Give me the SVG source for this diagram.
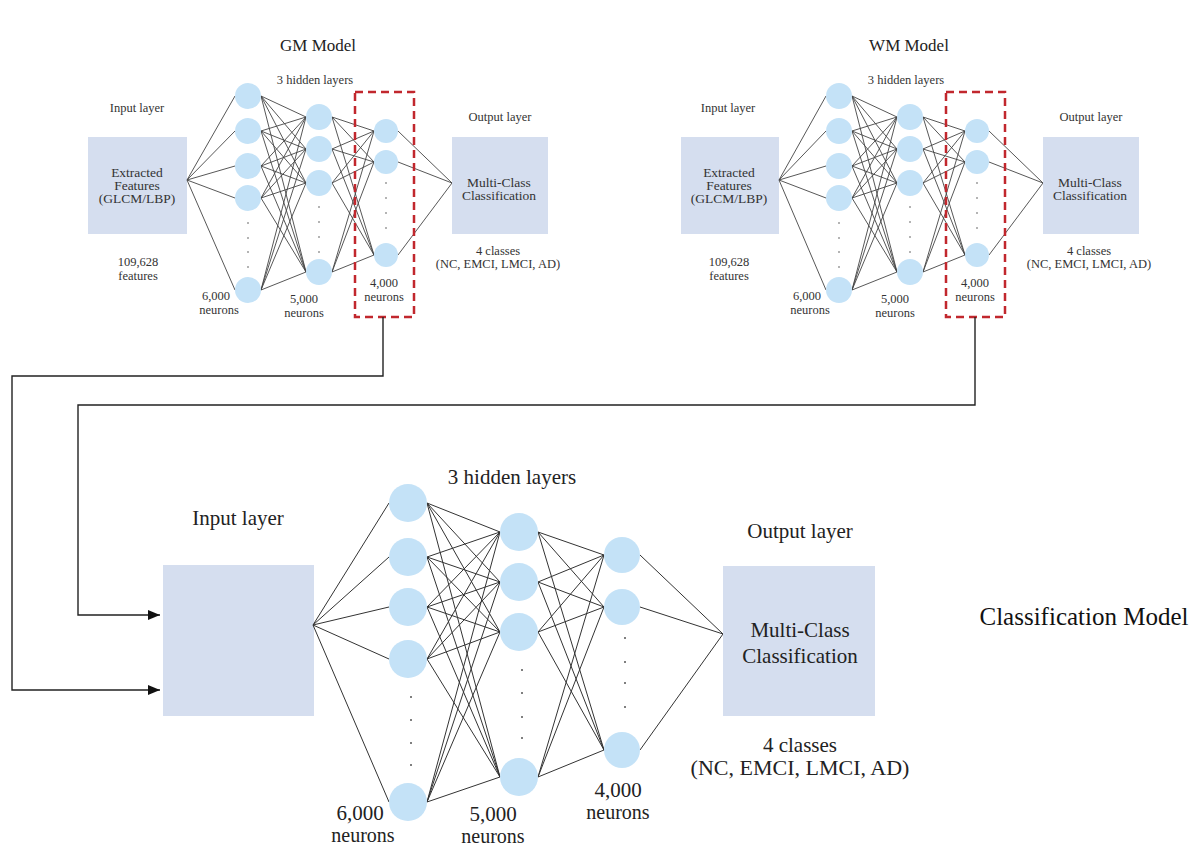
<svg xmlns="http://www.w3.org/2000/svg" width="1201" height="848" viewBox="0 0 1201 848">
<style>
text{font-family:"Liberation Serif","Times New Roman",serif;text-anchor:middle;fill:#333}
.s{font-size:12.5px}
.m{font-size:13.5px}
.t{font-size:17px;fill:#222}
.b{font-size:21px;fill:#222}
.bn{font-size:22px;fill:#222}
.nd{font-size:21px;fill:#222}
.nl{font-size:20px;fill:#222}
.box{fill:#d5deef}
.n{fill:#c4e2f7}
.e{fill:none;stroke:#444;stroke-width:0.9}
.eb{fill:none;stroke:#333;stroke-width:1}
.dot{fill:#555}
.red{fill:none;stroke:#c1272d;stroke-width:2.5;stroke-dasharray:8 5}
.conn{fill:none;stroke:#222;stroke-width:1.4}
</style>
<defs>
<marker id="arr" viewBox="0 0 12 10" refX="12" refY="5" markerWidth="12" markerHeight="10" markerUnits="userSpaceOnUse" orient="auto">
<path d="M0 0L12 5L0 10z" fill="#111"/>
</marker>
</defs>
<rect width="1201" height="848" fill="#fff"/>

<!-- GM model -->
<g id="gm-model">
<text class="t" x="318" y="51">GM Model</text>
<text class="s" x="315" y="84">3 hidden layers</text>
<g id="gm-input">
<text class="s" x="137" y="112">Input layer</text>
<rect class="box" x="88" y="137" width="99" height="97"/>
<text class="m" x="137" y="177">Extracted</text>
<text class="m" x="137" y="190">Features</text>
<text class="m" x="137" y="203">(GLCM/LBP)</text>
<text class="s" x="138" y="266">109,628</text>
<text class="s" x="138" y="280">features</text>
</g>
<g id="gm-edges">
<path class="e" d="M187 180L235 96M187 180L235 131M187 180L235 166M187 180L235 198M187 180L235 290"/>
<path class="e" d="M261 96L306 117M261 96L306 149M261 96L306 183M261 96L306 272M261 131L306 117M261 131L306 149M261 131L306 183M261 131L306 272M261 166L306 117M261 166L306 149M261 166L306 183M261 166L306 272M261 198L306 117M261 198L306 149M261 198L306 183M261 198L306 272M261 290L306 117M261 290L306 149M261 290L306 183M261 290L306 272"/>
<path class="e" d="M332 117L374 131M332 117L374 162M332 117L374 255M332 149L374 131M332 149L374 162M332 149L374 255M332 183L374 131M332 183L374 162M332 183L374 255M332 272L374 131M332 272L374 162M332 272L374 255"/>
<path class="e" d="M398 131L452 183M398 162L452 183M398 255L452 183"/>
</g>
<g id="gm-hidden1">
<circle class="n" cx="248" cy="96" r="13"/><circle class="n" cx="248" cy="131" r="13"/><circle class="n" cx="248" cy="166" r="13"/><circle class="n" cx="248" cy="198" r="13"/><circle class="n" cx="248" cy="290" r="13"/>
<circle class="dot" cx="248" cy="223" r="0.8"/><circle class="dot" cx="248" cy="238" r="0.8"/><circle class="dot" cx="248" cy="252" r="0.8"/><circle class="dot" cx="248" cy="267" r="0.8"/>
<text class="s" x="216" y="300">6,000</text><text class="s" x="219" y="314">neurons</text>
</g>
<g id="gm-hidden2">
<circle class="n" cx="319" cy="117" r="13"/><circle class="n" cx="319" cy="149" r="13"/><circle class="n" cx="319" cy="183" r="13"/><circle class="n" cx="319" cy="272" r="13"/>
<circle class="dot" cx="319" cy="207" r="0.8"/><circle class="dot" cx="319" cy="222" r="0.8"/><circle class="dot" cx="319" cy="237" r="0.8"/><circle class="dot" cx="319" cy="252" r="0.8"/>
<text class="s" x="304" y="303">5,000</text><text class="s" x="304" y="317">neurons</text>
</g>
<g id="gm-hidden3">
<circle class="n" cx="386" cy="131" r="12"/><circle class="n" cx="386" cy="162" r="12"/><circle class="n" cx="386" cy="255" r="12"/>
<circle class="dot" cx="386" cy="183" r="0.8"/><circle class="dot" cx="386" cy="198" r="0.8"/><circle class="dot" cx="386" cy="213" r="0.8"/><circle class="dot" cx="386" cy="228" r="0.8"/>
<text class="s" x="384" y="287">4,000</text><text class="s" x="384" y="301">neurons</text>
<rect class="red" x="355" y="92" width="59" height="225"/>
</g>
<g id="gm-output">
<text class="s" x="500" y="121">Output layer</text>
<rect class="box" x="452" y="137" width="96" height="97"/>
<text class="m" x="499" y="187">Multi-Class</text>
<text class="m" x="499" y="200">Classification</text>
<text class="s" x="498" y="255">4 classes</text>
<text class="s" x="498" y="268">(NC, EMCI, LMCI, AD)</text>
</g>
</g>

<!-- WM model -->
<g id="wm-model" transform="translate(591,0)">
<text class="t" x="318" y="51">WM Model</text>
<text class="s" x="315" y="84">3 hidden layers</text>
<g id="wm-input">
<text class="s" x="137" y="112">Input layer</text>
<rect class="box" x="90" y="137" width="98" height="97"/>
<text class="m" x="138" y="177">Extracted</text>
<text class="m" x="138" y="190">Features</text>
<text class="m" x="138" y="203">(GLCM/LBP)</text>
<text class="s" x="138" y="266">109,628</text>
<text class="s" x="138" y="280">features</text>
</g>
<g id="wm-edges">
<path class="e" d="M188 180L235 96M188 180L235 131M188 180L235 166M188 180L235 198M188 180L235 290"/>
<path class="e" d="M261 96L306 117M261 96L306 149M261 96L306 183M261 96L306 272M261 131L306 117M261 131L306 149M261 131L306 183M261 131L306 272M261 166L306 117M261 166L306 149M261 166L306 183M261 166L306 272M261 198L306 117M261 198L306 149M261 198L306 183M261 198L306 272M261 290L306 117M261 290L306 149M261 290L306 183M261 290L306 272"/>
<path class="e" d="M332 117L374 131M332 117L374 162M332 117L374 255M332 149L374 131M332 149L374 162M332 149L374 255M332 183L374 131M332 183L374 162M332 183L374 255M332 272L374 131M332 272L374 162M332 272L374 255"/>
<path class="e" d="M398 131L452 183M398 162L452 183M398 255L452 183"/>
</g>
<g id="wm-hidden1">
<circle class="n" cx="248" cy="96" r="13"/><circle class="n" cx="248" cy="131" r="13"/><circle class="n" cx="248" cy="166" r="13"/><circle class="n" cx="248" cy="198" r="13"/><circle class="n" cx="248" cy="290" r="13"/>
<circle class="dot" cx="248" cy="223" r="0.8"/><circle class="dot" cx="248" cy="238" r="0.8"/><circle class="dot" cx="248" cy="252" r="0.8"/><circle class="dot" cx="248" cy="267" r="0.8"/>
<text class="s" x="216" y="300">6,000</text><text class="s" x="219" y="314">neurons</text>
</g>
<g id="wm-hidden2">
<circle class="n" cx="319" cy="117" r="13"/><circle class="n" cx="319" cy="149" r="13"/><circle class="n" cx="319" cy="183" r="13"/><circle class="n" cx="319" cy="272" r="13"/>
<circle class="dot" cx="319" cy="207" r="0.8"/><circle class="dot" cx="319" cy="222" r="0.8"/><circle class="dot" cx="319" cy="237" r="0.8"/><circle class="dot" cx="319" cy="252" r="0.8"/>
<text class="s" x="304" y="303">5,000</text><text class="s" x="304" y="317">neurons</text>
</g>
<g id="wm-hidden3">
<circle class="n" cx="386" cy="131" r="12"/><circle class="n" cx="386" cy="162" r="12"/><circle class="n" cx="386" cy="255" r="12"/>
<circle class="dot" cx="386" cy="183" r="0.8"/><circle class="dot" cx="386" cy="198" r="0.8"/><circle class="dot" cx="386" cy="213" r="0.8"/><circle class="dot" cx="386" cy="228" r="0.8"/>
<text class="s" x="384" y="287">4,000</text><text class="s" x="384" y="301">neurons</text>
<rect class="red" x="355" y="92" width="59" height="225"/>
</g>
<g id="wm-output">
<text class="s" x="500" y="121">Output layer</text>
<rect class="box" x="452" y="137" width="96" height="97"/>
<text class="m" x="499" y="187">Multi-Class</text>
<text class="m" x="499" y="200">Classification</text>
<text class="s" x="498" y="255">4 classes</text>
<text class="s" x="498" y="268">(NC, EMCI, LMCI, AD)</text>
</g>
</g>

<!-- Connectors -->
<g id="connectors">
<path class="conn" d="M383 317V376H12V690H160" marker-end="url(#arr)"/>
<path class="conn" d="M975 317V405H78V615H160" marker-end="url(#arr)"/>
</g>

<!-- Classification model -->
<g id="cls-model">
<text class="b" x="512" y="484">3 hidden layers</text>
<g id="cls-input">
<text class="b" x="238" y="525">Input layer</text>
<rect class="box" x="163" y="565" width="151" height="151"/>
</g>
<g id="cls-edges">
<path class="eb" d="M313 625L389 503M313 625L389 557M313 625L389 607M313 625L389 659M313 625L389 802"/>
<path class="eb" d="M427 503L500 532M427 503L500 582M427 503L500 632M427 503L500 777M427 557L500 532M427 557L500 582M427 557L500 632M427 557L500 777M427 607L500 532M427 607L500 582M427 607L500 632M427 607L500 777M427 659L500 532M427 659L500 582M427 659L500 632M427 659L500 777M427 802L500 532M427 802L500 582M427 802L500 632M427 802L500 777"/>
<path class="eb" d="M538 532L604 555M538 532L604 607M538 532L604 750M538 582L604 555M538 582L604 607M538 582L604 750M538 632L604 555M538 632L604 607M538 632L604 750M538 777L604 555M538 777L604 607M538 777L604 750"/>
<path class="eb" d="M640 555L723 634M640 607L723 634M640 750L723 634"/>
</g>
<g id="cls-hidden1">
<circle class="n" cx="408" cy="503" r="19"/><circle class="n" cx="408" cy="557" r="19"/><circle class="n" cx="408" cy="607" r="19"/><circle class="n" cx="408" cy="659" r="19"/><circle class="n" cx="408" cy="802" r="19"/>
<circle class="dot" cx="411" cy="697" r="1"/><circle class="dot" cx="411" cy="720" r="1"/><circle class="dot" cx="411" cy="743" r="1"/><circle class="dot" cx="411" cy="765" r="1"/>
<text class="nd" x="360" y="820">6,000</text><text class="nl" x="363" y="842">neurons</text>
</g>
<g id="cls-hidden2">
<circle class="n" cx="519" cy="532" r="19"/><circle class="n" cx="519" cy="582" r="19"/><circle class="n" cx="519" cy="632" r="19"/><circle class="n" cx="519" cy="777" r="19"/>
<circle class="dot" cx="522" cy="670" r="1"/><circle class="dot" cx="522" cy="693" r="1"/><circle class="dot" cx="522" cy="717" r="1"/><circle class="dot" cx="522" cy="738" r="1"/>
<text class="nd" x="493" y="821">5,000</text><text class="nl" x="493" y="843">neurons</text>
</g>
<g id="cls-hidden3">
<circle class="n" cx="622" cy="555" r="18"/><circle class="n" cx="622" cy="607" r="18"/><circle class="n" cx="622" cy="750" r="18"/>
<circle class="dot" cx="625" cy="638" r="1"/><circle class="dot" cx="625" cy="662" r="1"/><circle class="dot" cx="625" cy="683" r="1"/><circle class="dot" cx="625" cy="707" r="1"/>
<text class="nd" x="618" y="797">4,000</text><text class="nl" x="618" y="819">neurons</text>
</g>
<g id="cls-output">
<text class="b" x="800" y="538">Output layer</text>
<rect class="box" x="723" y="566" width="152" height="150"/>
<text class="b" x="800" y="637">Multi-Class</text>
<text class="b" x="800" y="663">Classification</text>
<text class="b" x="800" y="752">4 classes</text>
<text class="bn" x="800" y="775">(NC, EMCI, LMCI, AD)</text>
</g>
<text x="1084" y="625" style="font-size:25px;fill:#111">Classification  Model</text>
</g>
</svg>
